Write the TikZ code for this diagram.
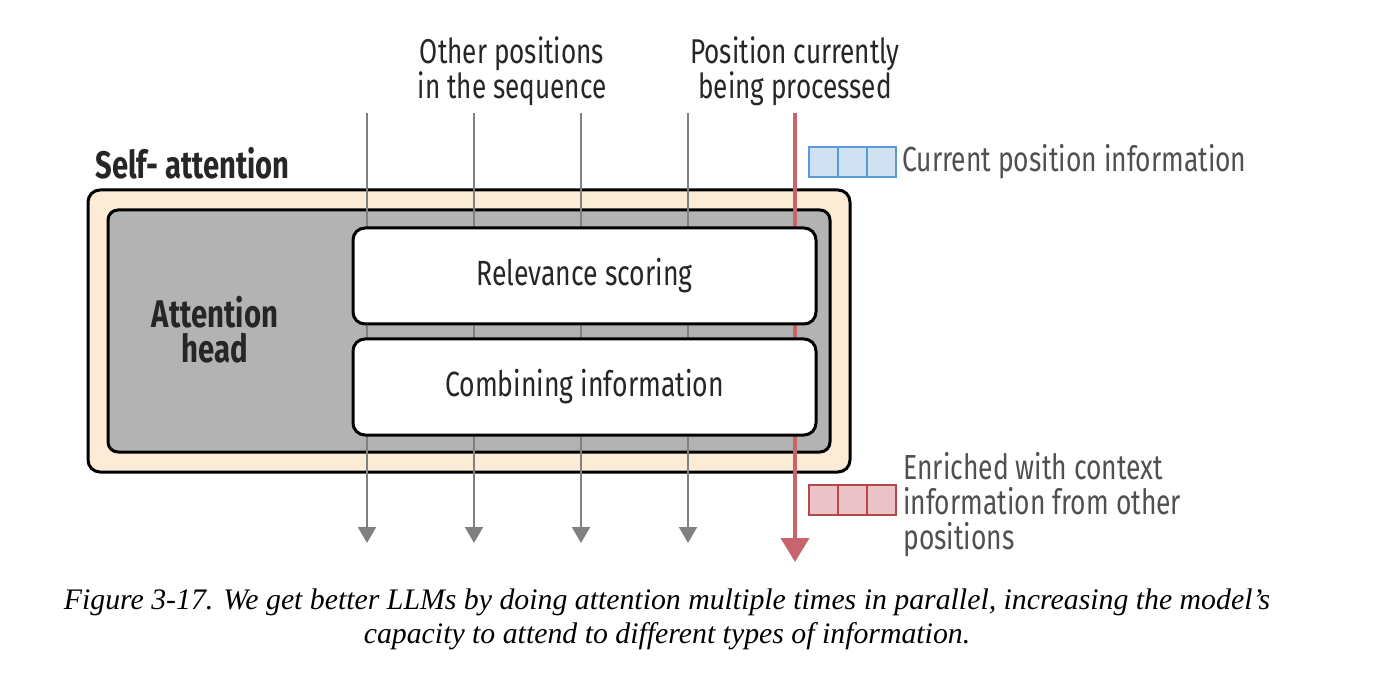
\documentclass[tikz,border=0pt]{standalone}
\usepackage{fontspec}
\setmainfont{Liberation Serif}
\setsansfont[FakeStretch=0.76]{Fira Sans}
\usetikzlibrary{arrows.meta}
\definecolor{beigefill}{HTML}{FCEBD6}
\definecolor{headgray}{HTML}{B3B3B3}
\definecolor{linegray}{HTML}{808080}
\definecolor{curred}{HTML}{C8646C}
\definecolor{bluefill}{HTML}{D0E2F2}
\definecolor{blueedge}{HTML}{5B9BD5}
\definecolor{redfill}{HTML}{E9C3C7}
\definecolor{rededge}{HTML}{B8474D}
\definecolor{txtdark}{HTML}{262626}
\definecolor{txtgray}{HTML}{505050}
\tikzset{
  outerbox/.style={draw=black, line width=1.5pt, fill=beigefill, rounded corners=6pt, minimum width=381pt, minimum height=141pt, inner sep=0pt},
  innerbox/.style={draw=black, line width=1.5pt, fill=headgray, rounded corners=5pt, minimum width=361pt, minimum height=121pt, inner sep=0pt},
  stagebox/.style={draw=black, line width=1.5pt, fill=white, rounded corners=6pt, minimum width=231.5pt, minimum height=48pt, inner sep=0pt, text=txtdark, font=\sffamily\fontsize{17.5}{18}\selectfont},
  posline/.style={draw=linegray, line width=1pt, -{Triangle[width=9pt,length=8pt]}},
  curline/.style={draw=curred, line width=2pt, -{Triangle[width=14pt,length=12pt]}},
  lbl/.style={text=txtdark, font=\sffamily\fontsize{17.2}{17.5}\selectfont, align=center, inner sep=0pt},
  legtxt/.style={text=txtgray, font=\sffamily\fontsize{17.4}{17.5}\selectfont, align=left, inner sep=0pt, anchor=west},
  bluecell/.style={draw=blueedge, line width=1pt, fill=bluefill, minimum width=14.5pt, minimum height=15pt, inner sep=0pt},
  redcell/.style={draw=rededge, line width=1pt, fill=redfill, minimum width=14.5pt, minimum height=15pt, inner sep=0pt},
}
\begin{document}
\begin{tikzpicture}[x=0.5pt,y=-0.5pt]
\useasboundingbox (0,0) rectangle (1380,678);
\node[outerbox] (sa) at (469,331) {};
\node[innerbox] (head) at (469,331) {};
% position lines
\foreach \i/\x in {1/367,2/474,3/581,4/688}{
  \coordinate (t\i) at (\x,113);
  \coordinate (b\i) at (\x,543);
  \draw[posline] (t\i) -- (b\i);
}
\coordinate (tc) at (795,113);
\coordinate (bc) at (795,562);
\draw[curline] (tc) -- (bc);
\node[stagebox] (rel) at (584.5,276) {Relevance scoring};
\node[stagebox] (comb) at (584.5,387) {Combining information};
\node[lbl, font=\sffamily\bfseries\fontsize{19.2}{18}\selectfont, anchor=west] (satitle) at (95,163) {Self- attention};
\node[lbl, font=\sffamily\bfseries\fontsize{19.3}{17.5}\selectfont] (headlbl) at (215,330) {Attention\\head};
\node[lbl] (other) at (512,71) {Other positions\\in the sequence};
\node[lbl] (cur) at (795,71) {Position currently\\being processed};
% legends
\node[bluecell] (bc1) at (823,162) {};
\node[bluecell] (bc2) at (852,162) {};
\node[bluecell] (bc3) at (881,162) {};
\node[legtxt] (curtxt) at (902,162) {Current position information};
\node[redcell] (rc1) at (823,500) {};
\node[redcell] (rc2) at (852,500) {};
\node[redcell] (rc3) at (881,500) {};
\node[legtxt] (enrtxt) at (903,505) {Enriched with context\\information from other\\positions};
% caption
\node[align=center, inner sep=0pt, font=\rmfamily\itshape\fontsize{14.9}{17}\selectfont] (caption) at (667,619) {Figure 3-17. We get better LLMs by doing attention multiple times in parallel, increasing the model’s\\capacity to attend to different types of information.};
\end{tikzpicture}
\end{document}
